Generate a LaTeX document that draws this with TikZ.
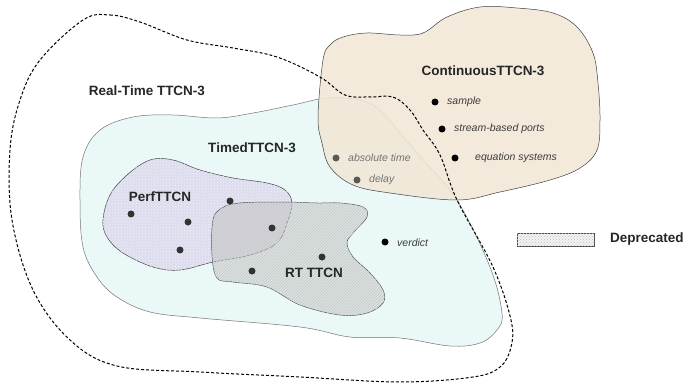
\documentclass[tikz,border=0pt]{standalone}
\usepackage{fontspec}
\setmainfont{Liberation Sans}
\usetikzlibrary{patterns}

\definecolor{timedblue}{RGB}{234,248,248}
\definecolor{conttan}{RGB}{241,231,214}
\definecolor{perflav}{RGB}{220,220,238}
\definecolor{rtgray}{RGB}{200,200,200}
\definecolor{itemgray}{RGB}{60,60,60}

\begin{document}
\begin{tikzpicture}[x=1pt,y=-1pt,
  region/.style={draw=black!55,line width=0.5pt},
  title/.style={font=\fontsize{13.5}{16}\selectfont\bfseries,text=black!85,inner sep=0pt},
  item/.style={font=\fontsize{10.5}{12}\selectfont\itshape,text=itemgray,inner sep=0pt,anchor=west},
  dot/.style={circle,fill=black,inner sep=0pt,minimum size=7pt}]

\useasboundingbox (0,0) rectangle (686,385);

\path[region,fill=timedblue] plot[smooth cycle,tension=0.6] coordinates {
  (80,200) (83,157) (100,130) (133,117) (173,115) (217,118) (253,113) (293,105)
  (327,98) (360,100) (380,110) (400,133) (423,160) (457,200) (490,267) (502,313)
  (497,330) (480,343) (450,346) (400,338) (350,337) (300,327) (200,318) (150,312)
  (117,297) (97,277) (83,247)};

\path[region,draw=black!75,fill=perflav,postaction={pattern=crosshatch dots,pattern color=white!70!perflav}]
  plot[smooth cycle,tension=0.6] coordinates {
  (103,220) (110,195) (127,175) (150,160) (173,160) (200,170) (233,178) (267,183)
  (285,190) (292,203) (287,223) (277,243) (250,255) (213,262) (180,270) (153,267)
  (123,253) (107,237)};

\path[region,draw=black!70,fill=rtgray,fill opacity=0.45,postaction={pattern=north east lines,pattern color=black!22}]
  plot[smooth cycle,tension=0.6] coordinates {
  (213,220) (222,208) (240,203) (283,202) (317,203) (340,203) (363,207) (367,217)
  (353,233) (347,243) (353,257) (370,273) (383,290) (383,303) (367,313) (340,315)
  (300,305) (267,287) (233,282) (217,278) (212,255)};

\path[region,draw=black!75,fill=conttan,fill opacity=0.88] plot[smooth cycle,tension=0.6] coordinates {
  (323,60) (318,117) (322,143) (330,167) (353,185) (390,193) (457,200) (500,192)
  (550,180) (580,168) (597,150) (600,120) (598,83) (593,53) (577,27) (553,13)
  (517,8) (480,7) (447,17) (423,33) (400,35) (367,33) (343,37) (330,45)};

\draw[line width=1pt,dash pattern=on 3pt off 2pt] plot[smooth cycle,tension=0.6] coordinates {
  (83,20) (110,15) (140,22) (187,40) (233,48) (277,57) (320,77) (345,95) (370,97)
  (393,97) (410,110) (423,130) (440,155) (457,200) (493,267) (511,320) (511,347)
  (500,367) (473,377) (400,382) (300,377) (200,372) (117,366) (70,340) (33,290)
  (12,220) (10,150) (20,100) (40,60)};

\node[title] (realtime) at (147,91) {Real-Time TTCN-3};
\node[title] (timed) at (252,148) {TimedTTCN-3};
\node[title] (cont) at (483,71) {ContinuousTTCN-3};
\node[title] (perf) at (160,197) {PerfTTCN};
\node[title] (rt) at (314,273) {RT TTCN};

\node[dot,fill=black!80] (p1) at (131,214) {};
\node[dot,fill=black!80] (p2) at (188,222) {};
\node[dot,fill=black!80] (p3) at (180,250) {};
\node[dot,fill=black!80] (p4) at (230,201) {};
\node[dot,fill=black!80] (p5) at (272,228) {};
\node[dot,fill=black!80] (p6) at (252,271) {};
\node[dot,fill=black!80] (p7) at (322,257) {};

\node[dot] (verdictdot) at (385,242) {};
\node[item] (verdict) at (397,243) {verdict};

\node[dot] (sampledot) at (435,102) {};
\node[item] (sample) at (447,102) {sample};
\node[dot] (streamdot) at (442,129) {};
\node[item] (stream) at (454,129) {stream-based ports};
\node[dot] (eqdot) at (455,158) {};
\node[item] (eq) at (475,158) {equation systems};
\node[dot,fill=black!65] (absdot) at (336,158) {};
\node[item,text=black!55] (abslabel) at (348,158) {absolute time};
\node[dot,fill=black!65] (delaydot) at (357,180) {};
\node[item,text=black!55] (delaylabel) at (369,180) {delay};

\node[draw=black!70,fill=black!5,postaction={pattern=crosshatch dots,pattern color=black!25},
  minimum width=77pt,minimum height=13pt,inner sep=0pt] (legbox) at (555.5,239.5) {};
\node[title,anchor=west] (deprecated) at (610,239) {Deprecated};

\end{tikzpicture}
\end{document}
